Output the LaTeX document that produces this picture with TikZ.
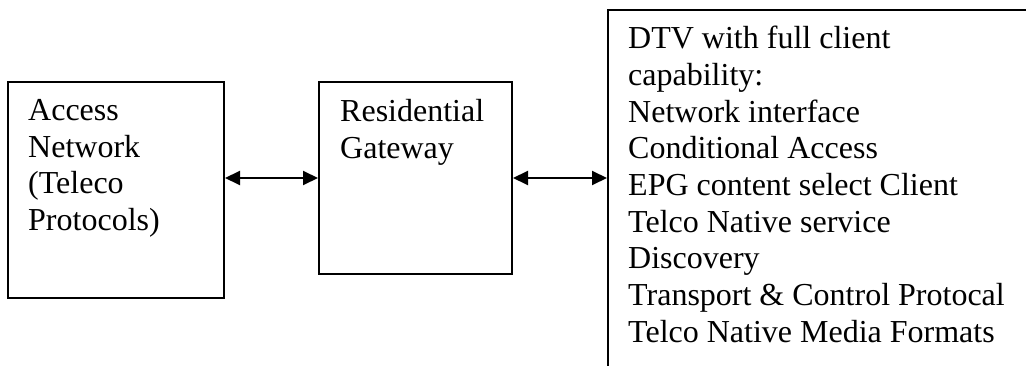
\documentclass[tikz,border=0pt]{standalone}
\usepackage{fontspec}
\setmainfont{Liberation Serif}
\usetikzlibrary{positioning,arrows.meta}
\tikzstyle{block} = [draw, line width=2pt, inner sep=0pt, anchor=north west]
\tikzstyle{txt} = [inner sep=0pt, align=left, anchor=north west, font=\fontsize{32}{36.7}\selectfont]
\tikzstyle{link} = [<->, line width=2pt, >={Triangle[length=15pt,width=14pt]}]

\begin{document}
\begin{tikzpicture}[x=1pt,y=-1pt]
			\useasboundingbox (0,0) rectangle (1026,366);
			\clip (0,0) rectangle (1026,366);
			\node[block, minimum width=216pt, minimum height=216pt] (acc) at (7,81) {};
			\node[block, minimum width=193pt, minimum height=192pt] (gw) at (318,81) {};
			\node[block, minimum width=480pt, minimum height=420pt] (dtv) at (607,9) {};
			\node[txt] (acctxt) at (28,99) {Access\\Network\\(Teleco\\Protocols)};
			\node[txt] (gwtxt) at (340,99) {Residential\\Gateway};
			\node[txt] (dtvtxt) at (628,26) {DTV with full client\\capability:\\Network interface\\Conditional Access\\EPG content select Client\\Telco Native service\\Discovery\\Transport \& Control Protocal\\Telco Native Media Formats};
			\draw[link] (gw.west -| acc.east) -- (gw.west);
			\draw[link] (gw.east) -- (gw.east -| dtv.west);
		\end{tikzpicture}
\end{document}
